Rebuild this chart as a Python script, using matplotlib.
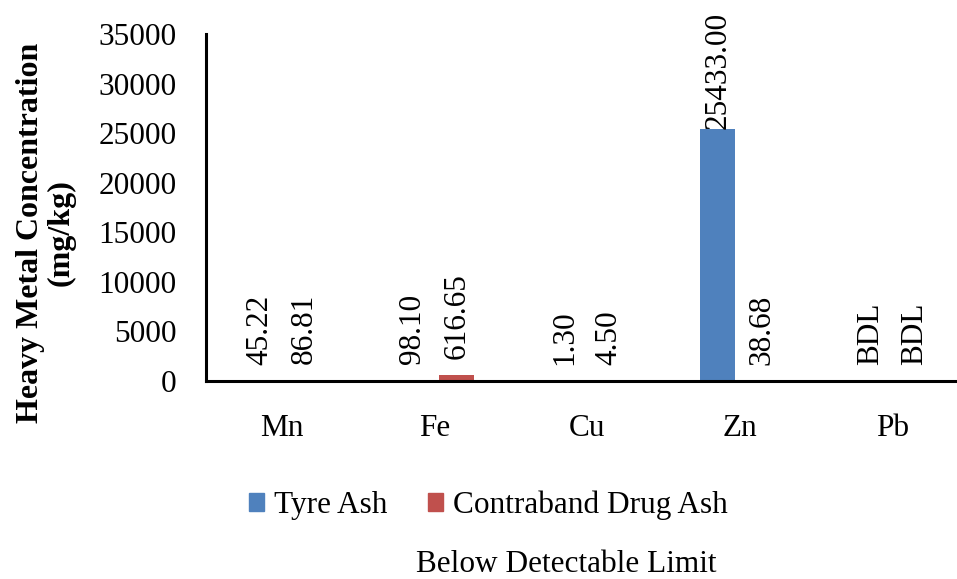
import numpy as np
import matplotlib
matplotlib.use("Agg")
import matplotlib.pyplot as plt
from matplotlib.patches import Patch

metals = ["Mn", "Fe", "Cu", "Zn", "Pb"]
tyre_ash = [45.22, 98.10, 1.30, 25433.00, 0.0]
drug_ash = [86.81, 616.65, 4.50, 38.68, 0.0]
tyre_labels = ["45.22", "98.10", "1.30", "25433.00", "BDL"]
drug_labels = ["86.81", "616.65", "4.50", "38.68", "BDL"]
yticks = [0, 5000, 10000, 15000, 20000, 25000, 30000, 35000]

blue = "#4F81BD"
red = "#C0504D"

plt.rcParams["font.family"] = ["Liberation Serif", "DejaVu Serif"]
W, H = 957, 579
fig = plt.figure(figsize=(W / 100, H / 100), dpi=100)
ax = fig.add_axes([206 / W, (H - 381) / H, 762.5 / W, 347 / H])

x = np.arange(len(metals))
bw = 0.23
off = 0.145
ax.bar(x - off, tyre_ash, bw, color=blue)
ax.bar(x + off, drug_ash, bw, color=red)

# value labels (small bars get a gap above the base like in the original)
for xs, vals, labs in [(x - off, tyre_ash, tyre_labels), (x + off, drug_ash, drug_labels)]:
    for xi, v, lab in zip(xs, vals, labs):
        dy = 0 if v > 10000 else 11.5
        ax.annotate(lab, (xi, v), xytext=(0, dy), textcoords="offset points",
                    rotation=90, ha="center", va="bottom", fontsize=22.5)

ax.set_xlim(-0.5, len(metals) - 0.5)
ax.set_ylim(0, 35000)
ax.set_yticks(yticks)
ax.set_xticks(x)
ax.set_xticklabels(metals)
ax.tick_params(axis="both", length=0, labelsize=22.5)
ax.tick_params(axis="y", pad=21)
ax.tick_params(axis="x", pad=24)
for s in ["top", "right"]:
    ax.spines[s].set_visible(False)
for s in ["left", "bottom"]:
    ax.spines[s].set_linewidth(2.2)
ax.patch.set_alpha(0)

fig.text(46 / W, 1 - 233 / H, "Heavy Metal Concentration\n(mg/kg)", rotation=90,
         ha="center", va="center", fontsize=23, fontweight="bold",
         multialignment="center", linespacing=1.05)

handles = [Patch(color=blue, label="Tyre Ash"), Patch(color=red, label="Contraband Drug Ash")]
fig.legend(handles=handles, loc="center", bbox_to_anchor=(488 / W, 1 - 505 / H), ncol=2,
           frameon=False, fontsize=22.5, handlelength=0.5, handleheight=0.5,
           handletextpad=0.3, columnspacing=1.3, borderpad=0)

fig.text(566 / W, 1 - 564 / H, "Below Detectable Limit", ha="center", va="center", fontsize=22.5)

fig.savefig("out.png", dpi=100)
